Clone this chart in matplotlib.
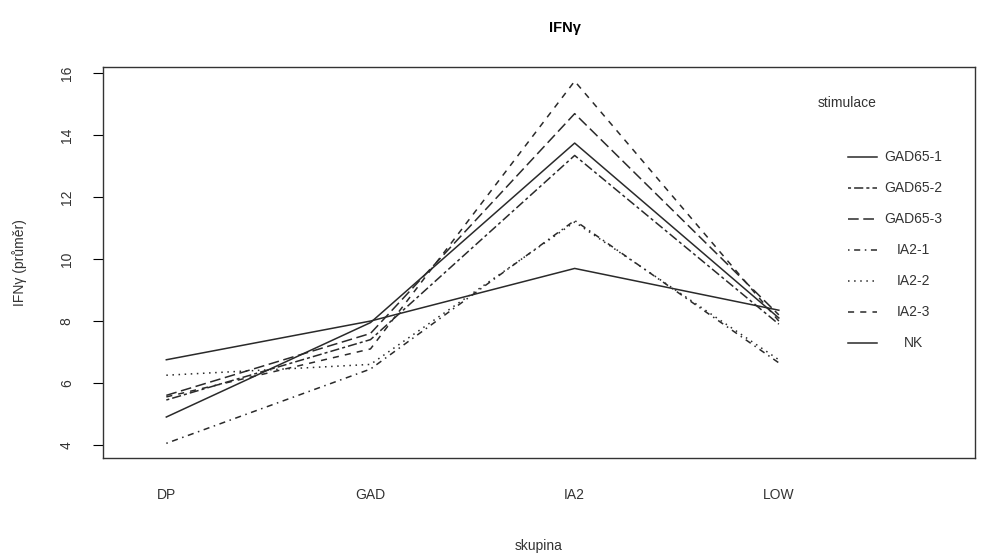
import matplotlib
matplotlib.use("Agg")
import matplotlib.pyplot as plt

plt.rcParams['font.family'] = ['Liberation Sans', 'DejaVu Sans']

groups = ["DP", "GAD", "IA2", "LOW"]
series_names = ["GAD65-1", "GAD65-2", "GAD65-3", "IA2-1", "IA2-2", "IA2-3", "NK"]
gad65_1 = [4.9, 7.95, 13.75, 8.1]
gad65_2 = [5.45, 7.4, 13.35, 7.9]
gad65_3 = [5.6, 7.6, 14.7, 8.2]
ia2_1 = [4.05, 6.45, 11.25, 6.65]
ia2_2 = [6.25, 6.6, 11.2, 6.75]
ia2_3 = [5.55, 7.1, 15.75, 8.0]
nk = [6.75, 8.0, 9.7, 8.35]
series_values = [gad65_1, gad65_2, gad65_3, ia2_1, ia2_2, ia2_3, nk]
yticks = [4, 6, 8, 10, 12, 14, 16]

styles = ['-', (0, (2, 2, 6, 2)), (0, (7, 3)), (0, (1, 3, 4, 3)), (0, (1, 3)), (0, (4, 4)), '-']
lc = '#2a2a2a'

fig = plt.figure(figsize=(9.84, 5.53), dpi=100)
ax = fig.add_axes([0.1047, 0.172, 0.886, 0.707])
x = list(range(1, len(groups) + 1))
for vals, ls in zip(series_values, styles):
    ax.plot(x, vals, linestyle=ls, color=lc, lw=1.1)

ax.set_xlim(0.69, 4.96)
ax.set_ylim(3.58, 16.21)
ax.set_yticks(yticks)
ax.set_yticklabels([str(t) for t in yticks], rotation=90, va='center', fontsize=10, color='#333333')
ax.set_xticks(x)
ax.set_xticklabels(groups, fontsize=10, color='#333333')
ax.tick_params(axis='x', length=0, pad=22)
ax.tick_params(axis='y', length=7, pad=14, width=0.8)
for s in ax.spines.values():
    s.set_linewidth(1.0)
    s.set_color('#333333')

ax.set_ylabel("IFNγ (průměr)", fontsize=10, labelpad=24, color='#333333')
ax.set_xlabel("skupina", fontsize=10, labelpad=26, color='#333333')
fig.text(565 / 984, 1 - 28 / 553, "IFNγ", ha='center', va='center', fontsize=10.5, fontweight='bold')

# legend drawn in data coordinates
leg_x0, leg_x1, leg_text = 4.34, 4.48, 4.66
ax.text(4.19, 15.05, "stimulace", fontsize=10, va='center', ha='left', color='#333333')
leg_y = [13.3 - i * 1.0 for i in range(len(series_names))]
for name, ls, yy in zip(series_names, styles, leg_y):
    ax.plot([leg_x0, leg_x1], [yy, yy], linestyle=ls, color=lc, lw=1.1)
    ax.text(leg_text, yy, name, fontsize=10, va='center', ha='center', color='#333333')

fig.savefig("out.png", dpi=100)
